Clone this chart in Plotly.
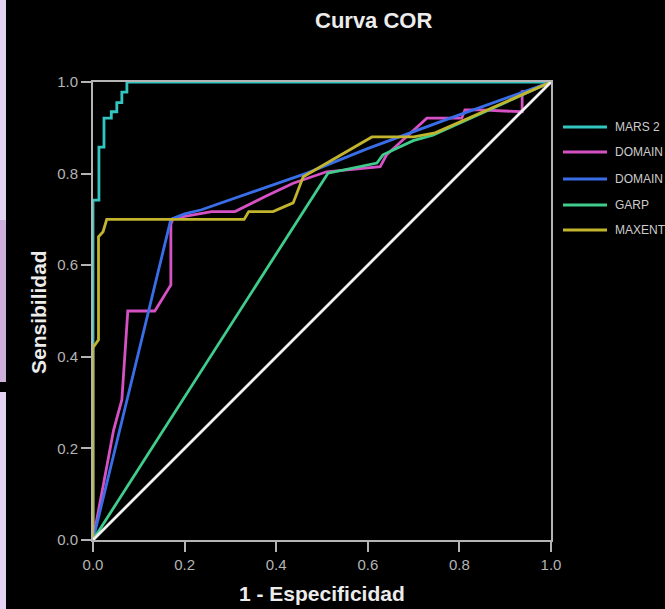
import plotly.graph_objects as go

# ---- data ----
series_names = ["MARS 2", "DOMAIN 1", "DOMAIN 2", "GARP", "MAXENT"]

mars_x = [0, 0, 0.013, 0.013, 0.024, 0.024, 0.040, 0.040, 0.052, 0.052, 0.063, 0.063, 0.074, 0.074, 1.0]
mars_y = [0, 0.742, 0.742, 0.858, 0.858, 0.921, 0.921, 0.935, 0.935, 0.955, 0.955, 0.978, 0.978, 1.0, 1.0]

dom1_x = [0, 0.045, 0.063, 0.076, 0.135, 0.170, 0.170, 0.175, 0.259, 0.310, 0.376, 0.437, 0.510, 0.600, 0.627, 0.641, 0.699, 0.729, 0.805, 0.812, 0.845, 0.937, 0.937, 0.950, 1.0]
dom1_y = [0, 0.240, 0.306, 0.500, 0.500, 0.557, 0.690, 0.702, 0.717, 0.717, 0.750, 0.779, 0.804, 0.812, 0.815, 0.841, 0.895, 0.921, 0.921, 0.939, 0.939, 0.935, 0.979, 0.979, 1.0]

dom2_x = [0, 0.170, 0.200, 0.237, 0.467, 0.598, 0.780, 1.0]
dom2_y = [0, 0.700, 0.712, 0.721, 0.801, 0.854, 0.921, 1.0]

garp_x = [0, 0.513, 0.620, 0.633, 0.699, 0.742, 1.0]
garp_y = [0, 0.801, 0.823, 0.841, 0.872, 0.884, 1.0]

maxent_x = [0, 0, 0.012, 0.012, 0.022, 0.030, 0.330, 0.340, 0.393, 0.437, 0.459, 0.609, 0.700, 0.747, 1.0]
maxent_y = [0, 0.420, 0.437, 0.662, 0.673, 0.700, 0.700, 0.717, 0.717, 0.736, 0.793, 0.880, 0.880, 0.889, 1.0]

ref_x = [0, 1]
ref_y = [0, 1]

tick_vals = [0.0, 0.2, 0.4, 0.6, 0.8, 1.0]
tick_text = ["0.0", "0.2", "0.4", "0.6", "0.8", "1.0"]

colors = ["#33c6c0", "#d651c4", "#3a6ee8", "#3fcc8c", "#c2b42c"]

xs = [mars_x, dom1_x, dom2_x, garp_x, maxent_x]
ys = [mars_y, dom1_y, dom2_y, garp_y, maxent_y]

FONT = "Arial, Liberation Sans, sans-serif"

fig = go.Figure()
for name, x, y, c in zip(series_names, xs, ys, colors):
    fig.add_trace(go.Scatter(x=x, y=y, mode="lines", name=name,
                             line=dict(color=c, width=2.8), showlegend=False,
                             cliponaxis=False))
fig.add_trace(go.Scatter(x=ref_x, y=ref_y, mode="lines", line=dict(color="#f2f2f2", width=2.8),
                         showlegend=False, cliponaxis=False))

axis_common = dict(range=[0, 1], tickvals=tick_vals, ticktext=tick_text, showgrid=False,
                   zeroline=False, showline=True, linecolor="#b4b4b4", linewidth=2, mirror=True,
                   ticks="outside", ticklen=10, tickwidth=2, tickcolor="#b4b4b4",
                   tickfont=dict(family=FONT, size=15, color="#b4b4b4"), fixedrange=True)

fig.update_layout(
    width=665, height=609, autosize=False,
    margin=dict(l=93, r=114, t=82, b=69, autoexpand=False),
    paper_bgcolor="#000000", plot_bgcolor="#000000",
    xaxis=dict(**axis_common),
    yaxis=dict(**axis_common),
    showlegend=False,
)

def px2x(px):
    return (px - 93) / 458.0

def py2y(py):
    return (540 - py) / 458.0

# purple strip at left edge (background photo showing)
shapes = [
    dict(type="rect", xref="paper", yref="paper", x0=px2x(0), x1=px2x(6), y0=py2y(0), y1=py2y(220),
         fillcolor="#e3d4f4", line=dict(width=0), layer="below"),
    dict(type="rect", xref="paper", yref="paper", x0=px2x(0), x1=px2x(6), y0=py2y(220), y1=py2y(382),
         fillcolor="#cdb0dc", line=dict(width=0), layer="below"),
    dict(type="rect", xref="paper", yref="paper", x0=px2x(0), x1=px2x(6), y0=py2y(392), y1=py2y(609),
         fillcolor="#e3d4f4", line=dict(width=0), layer="below"),
]

annotations = []
leg_rows = [127, 152, 179, 205, 230]
for name, c, py in zip(series_names, colors, leg_rows):
    shapes.append(dict(type="line", xref="paper", yref="paper", x0=px2x(563), x1=px2x(607),
                       y0=py2y(py), y1=py2y(py), line=dict(color=c, width=3)))
    annotations.append(dict(text=name, xref="paper", yref="paper", x=px2x(613), y=py2y(py),
                            xanchor="left", yanchor="middle", showarrow=False,
                            font=dict(family=FONT, size=12, color="#cccccc")))

annotations.append(dict(text="<b>Curva COR</b>", xref="paper", yref="paper", x=px2x(373), y=py2y(21),
                        xanchor="center", yanchor="middle", showarrow=False,
                        font=dict(family=FONT, size=22, color="#ececec")))
annotations.append(dict(text="<b>1 - Especificidad</b>", xref="paper", yref="paper", x=0.5, y=py2y(593),
                        xanchor="center", yanchor="middle", showarrow=False,
                        font=dict(family=FONT, size=21, color="#ececec")))
annotations.append(dict(text="<b>Sensibilidad</b>", xref="paper", yref="paper", x=px2x(38), y=py2y(312),
                        xanchor="center", yanchor="middle", showarrow=False, textangle=-90,
                        font=dict(family=FONT, size=21, color="#ececec")))

fig.update_layout(shapes=shapes, annotations=annotations)

fig.write_html("out.html", config={"displayModeBar": False},
               post_script="document.body.style.margin='0';document.body.style.overflow='hidden';")
